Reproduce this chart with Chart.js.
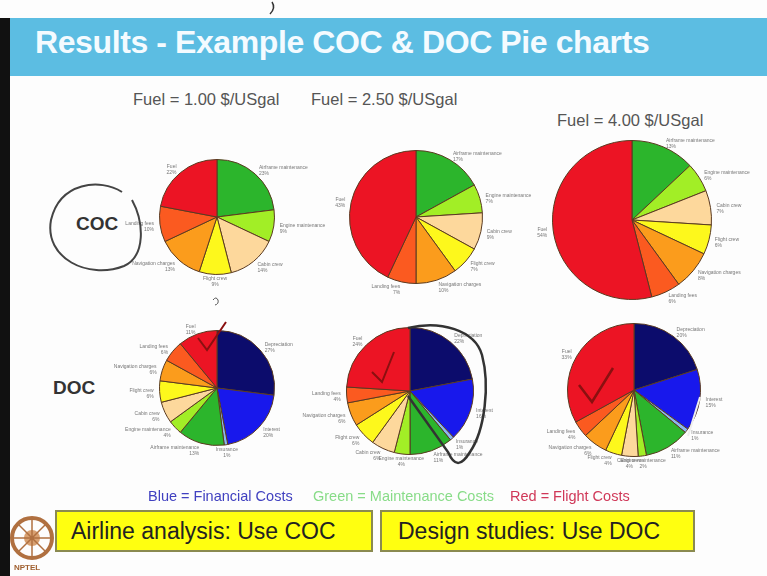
<!DOCTYPE html>
<html>
<head>
<meta charset="utf-8">
<script src="https://cdn.jsdelivr.net/npm/chart.js@4.4.0/dist/chart.umd.min.js"></script>
<style>
  body { margin: 0; background: #fff; }
  #slide { position: relative; width: 767px; height: 576px; overflow: hidden; background: #fdfdfd; font-family: "Liberation Sans", Arial, sans-serif; }
  #bar { position: absolute; left: 0; top: 18px; width: 10px; height: 558px; background: #111; }
  #header { position: absolute; left: 10px; top: 18px; width: 757px; height: 58px; background: #5cbde2; }
  #title { position: absolute; left: 35px; top: 24px; color: #f4fbff; font-weight: bold; font-size: 32px; white-space: nowrap; letter-spacing: -0.4px; }
  .fuel { position: absolute; font-size: 16.5px; color: #555; }
  .row { position: absolute; font-size: 19px; font-weight: bold; color: #333; }
  .pie { position: absolute; }
  .key { position: absolute; top: 488px; font-size: 14.5px; }
  .box { position: absolute; top: 510px; height: 38px; background: #ffff10; border: 2px solid #8a8a50; color: #222; font-size: 23px; line-height: 38px; box-sizing: content-box; }
  svg { position: absolute; left: 0; top: 0; }
</style>
</head>
<body>
<div id="slide">
  <div id="header"></div>
  <div id="bar"></div>
  <div id="title">Results - Example COC &amp; DOC Pie charts</div>

  <div class="fuel" style="left:133px;top:90px">Fuel = 1.00 $/USgal</div>
  <div class="fuel" style="left:311px;top:90px">Fuel = 2.50 $/USgal</div>
  <div class="fuel" style="left:557px;top:111px">Fuel = 4.00 $/USgal</div>

  <div class="row" style="left:76px;top:213px">COC</div>
  <div class="row" style="left:53px;top:377px">DOC</div>

  <canvas class="pie" id="coc1" width="240" height="200"></canvas>
  <canvas class="pie" id="coc2" width="240" height="200"></canvas>
  <canvas class="pie" id="coc3" width="240" height="200"></canvas>
  <canvas class="pie" id="doc1" width="240" height="200"></canvas>
  <canvas class="pie" id="doc2" width="240" height="200"></canvas>
  <canvas class="pie" id="doc3" width="240" height="200"></canvas>

  <div class="key" style="left:148px;color:#4040c0">Blue = Financial Costs</div>
  <div class="key" style="left:313px;color:#88dc88">Green = Maintenance Costs</div>
  <div class="key" style="left:510px;color:#d03858">Red = Flight Costs</div>

  <div class="box" style="left:55px;width:300px;padding-left:14px">Airline analysis: Use COC</div>
  <div class="box" style="left:380px;width:295px;padding-left:16px">Design studies: Use DOC</div>

  <svg width="767" height="576">
    <!-- hand-drawn marks on the slide -->
    <path d="M272,2 Q276,8 270,14" fill="none" stroke="#333" stroke-width="1.5"/>
    <path d="M122,192 C100,178 60,182 51,220 C44,258 88,280 124,266 C146,256 144,222 132,200" fill="none" stroke="#444" stroke-width="2"/>
    <path d="M213,300 q3,-4 5,0 q1,4 -3,5" fill="none" stroke="#555" stroke-width="1"/>
    <path d="M198,338 L207,350 L226,322" fill="none" stroke="#8a1010" stroke-width="2"/>
    <path d="M372,372 L382,382 L394,352" fill="none" stroke="#8a1010" stroke-width="2"/>
    <path d="M579,385 L592,402 L613,368" fill="none" stroke="#8a1010" stroke-width="2.5"/>
    <path d="M408,328 C440,320 475,330 482,355 C490,385 485,430 470,452 C462,465 455,468 448,452 L408,396" fill="none" stroke="#333" stroke-width="2.5"/>
    <path d="M700,397 L688,436" fill="none" stroke="#eee" stroke-width="2"/>
    <!-- NPTEL logo -->
    <circle cx="32" cy="538" r="20" fill="none" stroke="#b07040" stroke-width="4"/>
    <circle cx="32" cy="538" r="8" fill="#d8a070"/>
    <path d="M32,518 L32,558 M12,538 L52,538 M18,524 L46,552 M46,524 L18,552" stroke="#b07040" stroke-width="1.5"/>
    <text x="14" y="570" font-size="8" font-weight="bold" fill="#a06030" font-family="Liberation Sans">NPTEL</text>
  </svg>
</div>

<script>
// slice categories, clockwise from 12 o'clock
var cocLabels = ['Airframe maintenance', 'Engine maintenance', 'Cabin crew', 'Flight crew',
                 'Navigation charges', 'Landing fees', 'Fuel'];
var docLabels = ['Depreciation', 'Interest', 'Insurance', 'Airframe maintenance', 'Engine maintenance',
                 'Cabin crew', 'Flight crew', 'Navigation charges', 'Landing fees', 'Fuel'];

// shares (percent)
var coc100 = [23, 9, 14, 9, 13, 10, 22];
var coc250 = [17, 7, 9, 7, 10, 7, 43];
var coc400 = [13, 6, 7, 6, 8, 6, 54];
var doc100 = [27, 20, 1, 13, 4, 6, 6, 6, 6, 11];
var doc250 = [22, 16, 1, 11, 4, 6, 6, 6, 4, 24];
var doc400 = [20, 15, 1, 11, 2, 4, 4, 6, 4, 33];

var cocColors = ['#2cb52c', '#a2ee26', '#fdd89c', '#fdf81c', '#fb9c1c', '#fb5a20', '#ec1424'];
var docColors = ['#0c0c6c', '#1818ec', '#8ab8f0', '#2cb52c', '#a2ee26', '#fdd89c', '#fdf81c',
                 '#fb9c1c', '#fb5a20', '#ec1424'];

// small labels outside every slice
var outLabels = {
    id: 'outLabels',
    afterDatasetsDraw: function(chart) {
        var ctx = chart.ctx;
        var values = chart.data.datasets[0].data;
        var total = values.reduce(function(a, b) { return a + b; }, 0);
        ctx.save();
        ctx.font = '5px "Liberation Sans"';
        ctx.fillStyle = '#777';
        chart.getDatasetMeta(0).data.forEach(function(arc, i) {
            var p = arc.getProps(['x', 'y', 'startAngle', 'endAngle', 'outerRadius'], true);
            var a = (p.startAngle + p.endAngle) / 2;
            var r = p.outerRadius + 6;
            var x = p.x + Math.cos(a) * r;
            var y = p.y + Math.sin(a) * r;
            ctx.textAlign = Math.cos(a) > 0.2 ? 'left' : (Math.cos(a) < -0.2 ? 'right' : 'center');
            ctx.fillText(chart.data.labels[i], x, y);
            ctx.fillText(Math.round(values[i] / total * 100) + '%', x, y + 6);
        });
        ctx.restore();
    }
};

function drawPie(id, labels, values, colors, cx, cy, r) {
    var el = document.getElementById(id);
    el.style.left = (cx - 120) + 'px';
    el.style.top = (cy - 100) + 'px';
    new Chart(el.getContext('2d'), {
        type: 'pie',
        data: {
            labels: labels,
            datasets: [{ data: values, backgroundColor: colors, borderColor: '#5a3a20', borderWidth: 1 }]
        },
        options: {
            responsive: false,
            animation: false,
            layout: { padding: { left: 120 - r, right: 120 - r, top: 100 - r, bottom: 100 - r } },
            plugins: { legend: { display: false }, tooltip: { enabled: false } }
        },
        plugins: [outLabels]
    });
}

drawPie('coc1', cocLabels, coc100, cocColors, 217, 217, 58);
drawPie('coc2', cocLabels, coc250, cocColors, 416, 217, 67);
drawPie('coc3', cocLabels, coc400, cocColors, 632, 220, 80);
drawPie('doc1', docLabels, doc100, docColors, 217, 388, 58);
drawPie('doc2', docLabels, doc250, docColors, 410, 391, 64);
drawPie('doc3', docLabels, doc400, docColors, 634, 390, 67);
</script>
</body>
</html>
